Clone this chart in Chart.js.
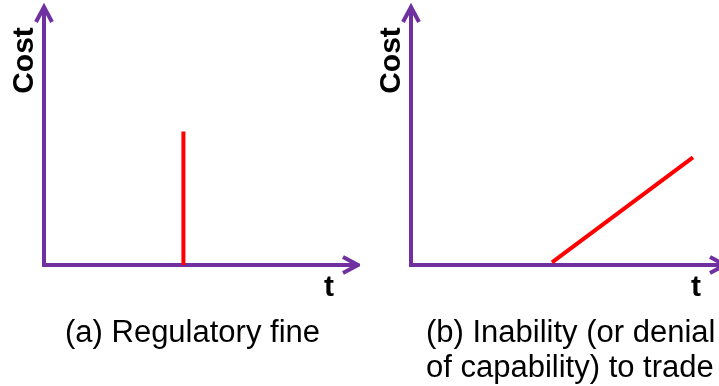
<!DOCTYPE html>
<html>
<head>
<meta charset="utf-8">
<script src="https://cdn.jsdelivr.net/npm/chart.js@4"></script>
<style>
  html, body { margin: 0; padding: 0; background: #fff; }
  body { width: 719px; height: 386px; overflow: hidden; position: relative; font-family: "Liberation Sans", Arial, sans-serif; }
  .panel { position: absolute; top: 0; }
  .caption { position: absolute; top: 314px; font-size: 31px; line-height: 35px; color: #000; white-space: nowrap; }
</style>
</head>
<body>
<div class="panel" style="left:0"><canvas id="chart-fine" width="360" height="386"></canvas></div>
<div class="panel" style="left:360px"><canvas id="chart-trade" width="380" height="386"></canvas></div>
<div class="caption" id="caption-fine" style="left:65px"></div>
<div class="caption" id="caption-trade" style="left:426px"></div>
<script>
// (a) regulatory fine: one-off jump in cost at a moment in time
const fineTime = [4.44, 4.44];
const fineCost = [0, 5.17];

// (b) inability to trade: cost grows over time once it starts
const tradeTime = [4.49, 8.98];
const tradeCost = [0.1, 4.17];

const yLabel = "Cost";
const xLabel = "t";
const captionFine = ["(a) Regulatory fine"];
const captionTrade = ["(b) Inability (or denial", "of capability) to trade"];

const AXIS_COLOR = "#7030a0";
const LINE_COLOR = "#ff0000";

// axes with open arrow heads, plus the "Cost" / "t" labels
const arrowAxes = {
  id: "arrowAxes",
  beforeDatasetsDraw(chart) {
    const { ctx, chartArea: a } = chart;
    ctx.save();
    ctx.strokeStyle = AXIS_COLOR;
    ctx.lineWidth = 4;
    ctx.lineJoin = "miter";
    ctx.lineCap = "butt";
    ctx.beginPath();
    ctx.moveTo(a.left, a.top + 1);
    ctx.lineTo(a.left, a.bottom);
    ctx.lineTo(a.right - 1, a.bottom);
    ctx.stroke();
    // arrow heads
    ctx.beginPath();
    ctx.moveTo(a.left - 8, a.top + 15);
    ctx.lineTo(a.left, a.top);
    ctx.lineTo(a.left + 8, a.top + 15);
    ctx.moveTo(a.right - 15, a.bottom - 8);
    ctx.lineTo(a.right, a.bottom);
    ctx.lineTo(a.right - 15, a.bottom + 8);
    ctx.stroke();
    ctx.restore();
  },
  afterDraw(chart) {
    const { ctx, chartArea: a } = chart;
    ctx.save();
    ctx.fillStyle = "#000";
    ctx.font = "bold 30px 'Liberation Sans', Arial, sans-serif";
    ctx.textBaseline = "alphabetic";
    ctx.textAlign = "center";
    ctx.fillText(xLabel, a.right - 29, a.bottom + 31);
    ctx.translate(a.left - 11, 60.5);
    ctx.rotate(-Math.PI / 2);
    ctx.fillText(yLabel, 0, 0);
    ctx.restore();
  }
};

const makeChart = (canvasId, times, costs, padding) => {
  const points = times.map((t, i) => ({ x: t, y: costs[i] }));
  return new Chart(document.getElementById(canvasId), {
    type: "line",
    data: {
      datasets: [{
        data: points,
        borderColor: LINE_COLOR,
        borderWidth: 4,
        borderCapStyle: "butt",
        pointRadius: 0,
        tension: 0,
        fill: false,
        clip: false,
      }],
    },
    options: {
      responsive: false,
      animation: false,
      layout: { padding },
      plugins: { legend: { display: false }, tooltip: { enabled: false } },
      scales: {
        x: { type: "linear", min: 0, max: 10, display: false },
        y: { type: "linear", min: 0, max: 10, display: false },
      },
    },
    plugins: [arrowAxes],
  });
};

makeChart("chart-fine", fineTime, fineCost, { left: 44, right: 2, top: 7, bottom: 121 });
makeChart("chart-trade", tradeTime, tradeCost, { left: 51, right: 15, top: 7, bottom: 121 });

document.getElementById("caption-fine").innerHTML = captionFine.join("<br>");
document.getElementById("caption-trade").innerHTML = captionTrade.join("<br>");
</script>
</body>
</html>
